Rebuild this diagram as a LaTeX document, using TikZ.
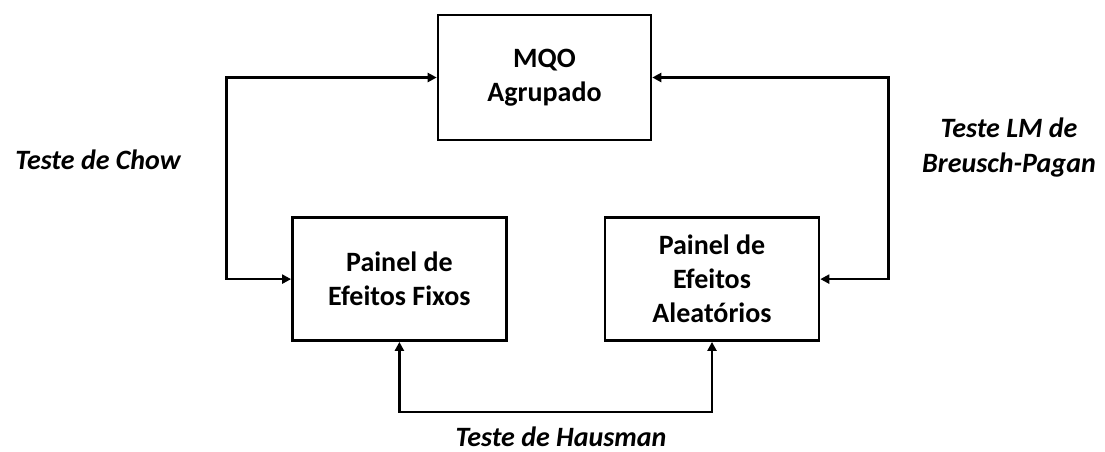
\documentclass[tikz,border=0pt]{standalone}
\usepackage{fontspec}
\setmainfont{Carlito}
\usetikzlibrary{arrows.meta,positioning}

\begin{document}
\begin{tikzpicture}[
    x=1pt, y=-1pt,
    painel/.style={rectangle, draw, line width=2.6pt, align=center, inner sep=0pt,
                   font=\fontsize{28}{34}\selectfont\bfseries,
                   minimum width=214pt, minimum height=123pt},
    teste/.style={align=center, font=\fontsize{28}{35}\selectfont\bfseries\itshape},
    arrow/.style={{Triangle[length=9pt,width=9pt]}-{Triangle[length=9pt,width=9pt]},
                  line width=2.6pt}
  ]
    \useasboundingbox (0,0) rectangle (1105,451);

    \node[painel, minimum width=213pt, minimum height=125pt] (mqo) at (544.5,77.5) {MQO\\Agrupado};
    \node[painel, below left=75pt and -71pt of mqo] (fixos) {Painel de\\Efeitos Fixos};
    \node[painel, right=96pt of fixos] (aleat) {Painel de\\Efeitos\\Aleatórios};

    \node[teste, anchor=base] (chow) at (98,169) {Teste de Chow};
    \node[teste] (breusch) at (1009,148) {Teste LM de\\Breusch-Pagan};
    \node[teste, anchor=base] (hausman) at (561,446) {Teste de Hausman};

    \draw[arrow] (mqo.west) -- ++(-210,0) |- (fixos.west);
    \draw[arrow] (mqo.east) -- ++(236,0) |- (aleat.east);
    \draw[arrow] (fixos.south) -- ++(0,70) -| (aleat.south);
  \end{tikzpicture}
\end{document}
